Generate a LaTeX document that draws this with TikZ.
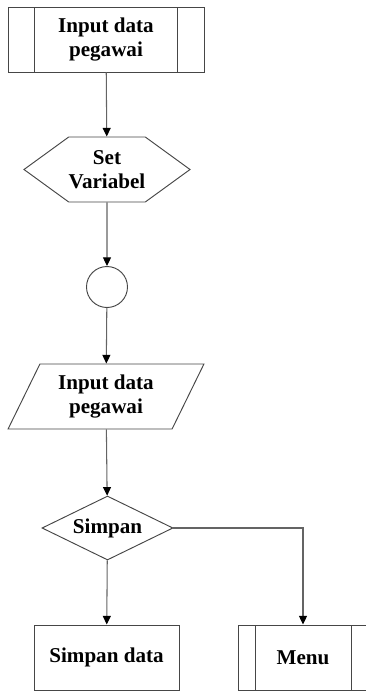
\documentclass[tikz,border=0pt]{standalone}
\usepackage{fontspec}
\setmainfont{Liberation Serif}
\usetikzlibrary{shapes.geometric, shapes.symbols, arrows.meta, positioning}

\tikzset{
  box/.style={draw=boxgray, line width=0.8pt, fill=white, align=center,
    minimum height=1.95cm, inner sep=0pt, font=\fontsize{18}{20.5}\selectfont\bfseries},
  subproc/.style={box, path picture={
      \draw[boxgray, line width=0.8pt]
        ([xshift=#1]path picture bounding box.north west) -- ([xshift=#1]path picture bounding box.south west)
        ([xshift=-#1]path picture bounding box.north east) -- ([xshift=-#1]path picture bounding box.south east);}},
  flow/.style={draw=linegray, line width=0.9pt, -{Triangle[length=0.26cm, width=0.24cm, color=black]}}
}

\begin{document}
\begin{tikzpicture}[x=0.03cm, y=-0.03cm]
  \definecolor{boxgray}{RGB}{70,70,70}
  \definecolor{linegray}{RGB}{100,100,100}
  \useasboundingbox (0,0) rectangle (366,691);

  % 流程节点
  \node[subproc=0.8cm, minimum width=5.88cm] (inputsub) at (106,39.5) {Input data\\pegawai};
  \node[box, signal, signal to=west and east, signal pointer angle=72,
        minimum width=4.86cm] (setvar) at (107,169.5) {Set\\Variabel};
  \node[draw=boxgray, line width=0.8pt, circle, minimum size=1.23cm] (conn) at (107,287) {};
  \node[box, trapezium, trapezium left angle=62, trapezium right angle=118,
        trapezium stretches=true, minimum width=5.88cm] (inputdata) at (106,396.5) {Input data\\pegawai};
  \node[box, diamond, aspect=2.05, minimum width=3.93cm, minimum height=1.92cm] (simpan) at (107.5,528) {Simpan};
  \node[box, minimum width=4.35cm] (simpandata) at (106.5,657.5) {Simpan data};
  \node[subproc=0.51cm, minimum width=3.9cm] (menu) at (303,657.5) {Menu};

  % 连线
  \draw[flow] (inputsub) -- (setvar);
  \draw[flow] (setvar) -- (conn);
  \draw[flow] (conn) -- (inputdata);
  \draw[flow] (inputdata) -- (simpan);
  \draw[flow] (simpan) -- (simpandata);
  \draw[flow] (simpan.east) -| (menu.north);
\end{tikzpicture}
\end{document}
